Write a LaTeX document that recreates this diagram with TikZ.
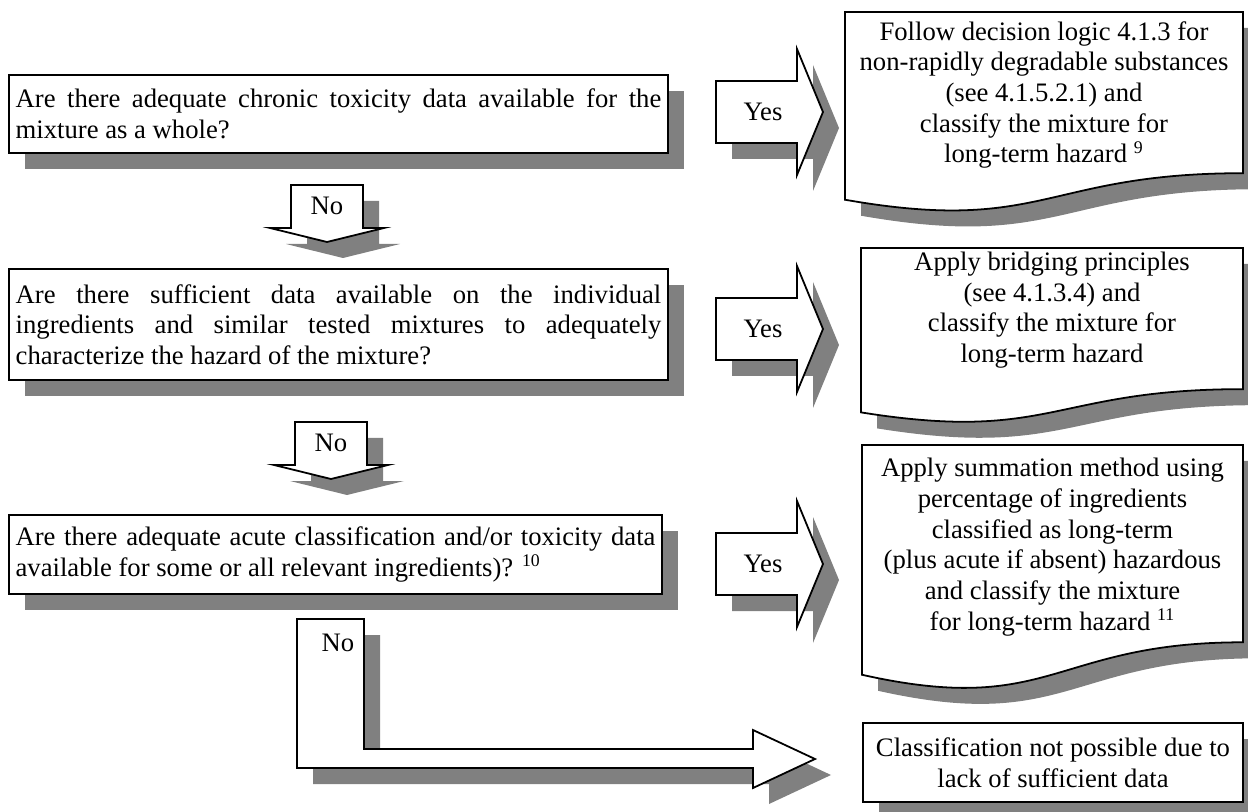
\documentclass[tikz,border=0pt]{standalone}
\usepackage{fontspec}
\setmainfont{Liberation Serif}
\usepackage{xcolor}
\usetikzlibrary{shadows}
\definecolor{shadowgray}{RGB}{128,128,128}
\setlength{\parindent}{0pt}

\begin{document}
\begin{tikzpicture}[x=0.45pt,y=-0.45pt,
  txt/.style={font=\fontsize{12}{13.8}\selectfont},
  outline/.style={draw=black,line width=0.8pt,fill=white},
  shade/.style={fill=shadowgray,draw=none},
  dshadow/.style={drop shadow={shadow xshift=7.2pt,shadow yshift=-7.2pt,opacity=1,fill=shadowgray,draw=none}},
  qbox/.style={outline,dshadow,txt,align=justify,inner xsep=3pt,inner ysep=0pt},
  doctext/.style={txt,align=center}]
\useasboundingbox (0,0) rectangle (1248,812);

% questions
\node[qbox,text width=290.5pt,minimum height=35.1pt] (qa) at (338.5,114)
  {Are there adequate chronic toxicity data available for the\linebreak mixture as a whole?};
\node[qbox,text width=290.5pt,minimum height=49.9pt] (qb) at (338.5,324.5)
  {Are there sufficient data available on the individual\linebreak ingredients and similar tested mixtures to adequately\linebreak characterize the hazard of the mixture?};
\node[qbox,text width=287.9pt,minimum height=35.5pt] (qc) at (335.5,554.5)
  {Are there adequate acute classification and/or toxicity data\linebreak available for some or all relevant ingredients)? \textsuperscript{10}};

% document shapes on the right
\foreach \l/\t/\r/\h in {845/12/1243/201,861/248/1243/176,862/445/1243/246}
  \foreach \s/\st in {16/shade,0/outline}
    \path[\st,shift={(\s,\s)}] (\l,\t) -- (\r,\t) -- (\r,\t+0.802*\h)
      .. controls ({(\l+\r)/2},\t+0.802*\h) and ({(\l+\r)/2},\t+1.1075*\h) .. (\l,\t+0.934*\h) -- cycle;
\node[doctext] (da) at (1044,95) {Follow decision logic 4.1.3 for\\non-rapidly degradable substances\\(see 4.1.5.2.1) and\\classify the mixture for\\long-term hazard \textsuperscript{9}};
\node[doctext] (db) at (1052,310) {Apply bridging principles\\(see 4.1.3.4) and\\classify the mixture for\\long-term hazard};
\node[doctext] (dc) at (1052.5,547) {Apply summation method using\\percentage of ingredients\\classified as long-term\\(plus acute if absent) hazardous\\and classify the mixture\\for long-term hazard \textsuperscript{11}};
\node[outline,dshadow,doctext,minimum width=171pt,minimum height=35.5pt,inner sep=0pt] (dd) at (1053,762.5)
  {Classification not possible due to\\lack of sufficient data};

% yes arrows
\foreach \cy/\nm in {112/yesa,329/yesb,564/yesc}{
  \foreach \s/\st in {16/shade,0/outline}
    \path[\st,shift={(\s,\s)}] (716,\cy-31) -- (797,\cy-31) -- (797,\cy-63) -- (823,\cy)
      -- (797,\cy+63) -- (797,\cy+31) -- (716,\cy+31) -- cycle;
  \node[txt] (\nm) at (763,\cy) {Yes};
}

% no arrows
\foreach \cx/\ty/\nm in {327/185/noa,331/422/nob}{
  \foreach \s/\st in {16/shade,0/outline}
    \path[\st,shift={(\s,\s)}] (\cx-36,\ty) -- (\cx+36,\ty) -- (\cx+36,\ty+43) -- (\cx+57,\ty+43)
      -- (\cx,\ty+57) -- (\cx-57,\ty+43) -- (\cx-36,\ty+43) -- cycle;
  \node[txt] (\nm) at (\cx,\ty+21) {No};
}

% bent arrow to the last box
\foreach \s/\st in {16/shade,0/outline}
  \path[\st,shift={(\s,\s)}] (297,619) -- (364,619) -- (364,749) -- (753,749) -- (753,730)
    -- (815,759) -- (753,788) -- (753,768) -- (297,768) -- cycle;
\node[txt] (noc) at (338,643) {No};
\end{tikzpicture}
\end{document}
